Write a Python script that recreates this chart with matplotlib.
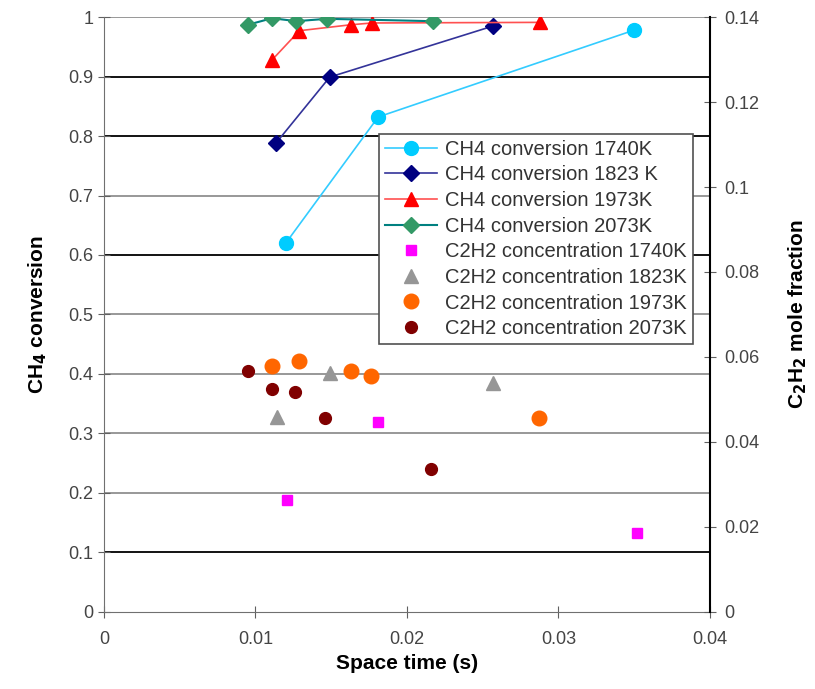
import numpy as np
import matplotlib.pyplot as plt

plt.rcParams['font.family'] = ['Liberation Sans', 'DejaVu Sans']
plt.rcParams['mathtext.default'] = 'bf'

# CH4 conversion (left axis)
x_1740 = [0.0120, 0.0181, 0.0350]
conv_1740 = [0.620, 0.832, 0.978]
x_1823 = [0.01135, 0.0149, 0.0257]
conv_1823 = [0.788, 0.899, 0.985]
x_1973 = [0.0111, 0.0129, 0.0163, 0.0177, 0.0288]
conv_1973 = [0.928, 0.977, 0.987, 0.990, 0.991]
x_2073 = [0.0095, 0.0111, 0.0127, 0.0147, 0.0217]
conv_2073 = [0.987, 0.998, 0.993, 0.997, 0.993]

# C2H2 mole fraction (right axis)
xc_1740 = [0.0121, 0.0181, 0.0352]
c2h2_1740 = [0.0264, 0.0448, 0.0186]
xc_1823 = [0.0114, 0.0149, 0.0257]
c2h2_1823 = [0.0458, 0.0563, 0.0538]
xc_1973 = [0.0111, 0.0129, 0.0163, 0.0176, 0.0287]
c2h2_1973 = [0.0579, 0.0591, 0.0567, 0.0555, 0.0456]
xc_2073 = [0.0095, 0.0111, 0.0126, 0.0146, 0.0216]
c2h2_2073 = [0.0567, 0.0525, 0.0518, 0.0457, 0.0336]

fig = plt.figure(figsize=(8.15, 6.89), dpi=100)
ax = fig.add_axes([0.1276, 0.1118, 0.7435, 0.8635])
ax2 = ax.twinx()

ax.set_xlim(0, 0.04)
ax.set_ylim(0, 1)
ax2.set_ylim(0, 0.14)

# horizontal gridlines (some render darker in the original)
for yv in np.arange(0.1, 1.01, 0.1):
    dark = round(yv, 1) in (0.1, 0.6, 0.8, 0.9)
    ax.axhline(yv, color='black' if dark else '#909090', lw=1.3, zorder=0)

h = []
h += ax.plot(x_1740, conv_1740, '-o', color='#33CCFF', mfc='#00CCFF', mec='#00CCFF',
             ms=10, lw=1.2, label='CH4 conversion 1740K')
h += ax.plot(x_1823, conv_1823, '-D', color='#333399', mfc='#000080', mec='#000080',
             ms=8.5, lw=1.2, label='CH4 conversion 1823 K')
h += ax.plot(x_1973, conv_1973, '-^', color='#FF5050', mfc='#FF0000', mec='#FF0000',
             ms=10.5, lw=1.2, label='CH4 conversion 1973K')
h += ax.plot(x_2073, conv_2073, '-D', color='#008080', mfc='#339966', mec='#339966',
             ms=8.5, lw=1.5, label='CH4 conversion 2073K')

h += ax2.plot(xc_1740, c2h2_1740, 's', color='#FF00FF', ms=7, ls='none',
              label='C2H2 concentration 1740K')
h += ax2.plot(xc_1823, c2h2_1823, '^', color='#969696', ms=10, ls='none',
              label='C2H2 concentration 1823K')
h += ax2.plot(xc_1973, c2h2_1973, 'o', color='#FF6600', ms=10.5, ls='none',
              label='C2H2 concentration 1973K')
h += ax2.plot(xc_2073, c2h2_2073, 'o', color='#800000', ms=8.5, ls='none',
              label='C2H2 concentration 2073K')

ax.set_xticks([0, 0.01, 0.02, 0.03, 0.04])
ax.set_xticklabels(['0', '0.01', '0.02', '0.03', '0.04'])
ax.set_yticks(np.arange(0, 1.01, 0.1))
ax.set_yticklabels(['0', '0.1', '0.2', '0.3', '0.4', '0.5', '0.6', '0.7', '0.8', '0.9', '1'])
ax2.set_yticks(np.arange(0, 0.141, 0.02))
ax2.set_yticklabels(['0', '0.02', '0.04', '0.06', '0.08', '0.1', '0.12', '0.14'])

for a in (ax, ax2):
    a.tick_params(labelsize=13, labelcolor='#444444', direction='inout', length=8,
                  color='#606060')
    a.spines['top'].set_visible(False)
ax.spines['right'].set_visible(False)
ax.spines['left'].set_color('#707070')
ax.spines['bottom'].set_color('#707070')
ax2.spines['left'].set_visible(False)
ax2.spines['bottom'].set_visible(False)
ax2.spines['right'].set_color('black')
ax2.spines['right'].set_linewidth(1.5)
ax.tick_params(axis='x', pad=10)
ax2.tick_params(axis='y', pad=6)

ax.set_xlabel('Space time (s)', fontsize=15, fontweight='bold', labelpad=4)
ax.set_ylabel('CH$_4$ conversion', fontsize=15, fontweight='bold', labelpad=14)
ax2.set_ylabel('C$_2$H$_2$ mole fraction', fontsize=15, fontweight='bold', labelpad=20)

leg = ax2.legend(handles=h, loc='upper left', bbox_to_anchor=(0.437, 0.821), fontsize=14.5,
                 frameon=True, fancybox=False, edgecolor='#505050', framealpha=1,
                 handlelength=2.6, labelspacing=0.33, borderpad=0.3, handletextpad=0.4)
leg.get_frame().set_linewidth(1.2)
for t in leg.get_texts():
    t.set_color('#333333')

fig.savefig('out.png', dpi=100)
